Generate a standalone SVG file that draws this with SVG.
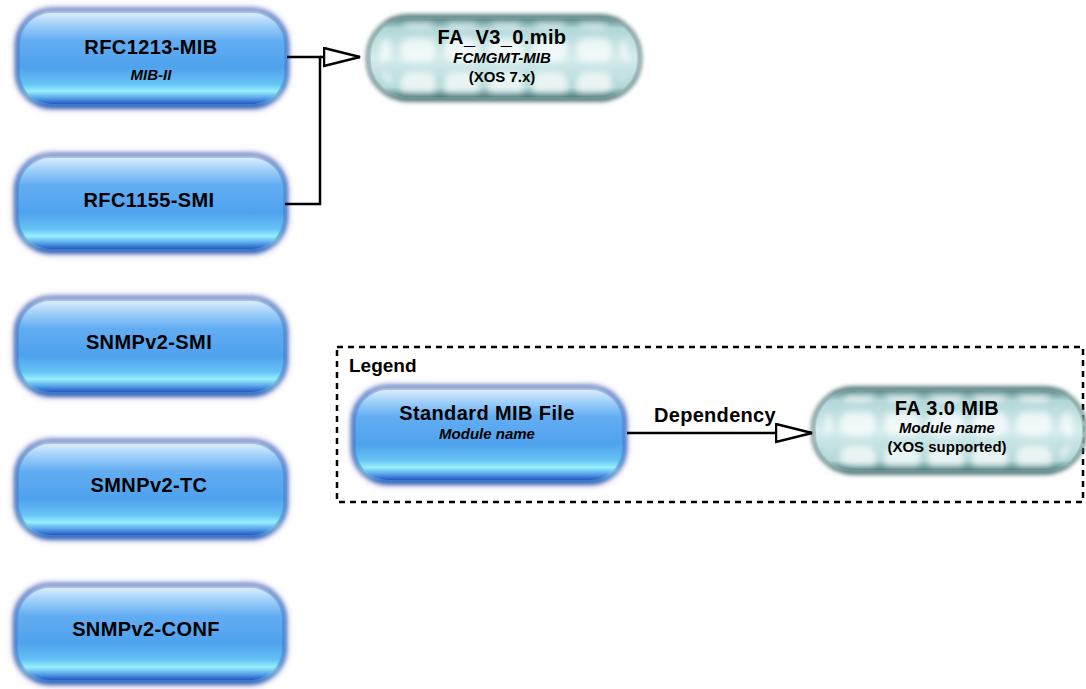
<svg xmlns="http://www.w3.org/2000/svg" width="1086" height="689" viewBox="0 0 1086 689">
<defs>
<linearGradient id="blueG" x1="0" y1="0" x2="0" y2="1">
<stop offset="0" stop-color="#dcecfb"/>
<stop offset="0.12" stop-color="#a4d2fa"/>
<stop offset="0.3" stop-color="#62adf2"/>
<stop offset="0.6" stop-color="#4fa2ee"/>
<stop offset="0.78" stop-color="#66c2f5"/>
<stop offset="0.86" stop-color="#96f0ff"/>
<stop offset="0.93" stop-color="#5aa8ec"/>
<stop offset="1" stop-color="#2458c0"/>
</linearGradient>
<linearGradient id="tealG" x1="0" y1="0" x2="0" y2="1">
<stop offset="0" stop-color="#5f8c8c"/>
<stop offset="0.12" stop-color="#b0d6d6"/>
<stop offset="0.5" stop-color="#d4ecec"/>
<stop offset="0.88" stop-color="#b0d6d6"/>
<stop offset="1" stop-color="#527e7e"/>
</linearGradient>
<filter id="soft" x="-10%" y="-20%" width="120%" height="140%">
<feGaussianBlur stdDeviation="2"/>
</filter>
<filter id="glow" x="-10%" y="-20%" width="120%" height="140%">
<feGaussianBlur stdDeviation="3"/>
</filter>
<filter id="blur4" x="-10%" y="-20%" width="120%" height="140%">
<feGaussianBlur stdDeviation="3"/>
</filter>
<pattern id="tiles" width="44" height="34" patternUnits="userSpaceOnUse">
<rect x="4" y="4" width="36" height="24" rx="10" fill="#ffffff" opacity="0.7"/>
</pattern>
<marker id="hollow" markerWidth="40" markerHeight="24" refX="37" refY="10" orient="auto" markerUnits="userSpaceOnUse">
<path d="M1,1 L37,10 L1,19 Z" fill="#ffffff" stroke="#000000" stroke-width="2.5"/>
</marker>
<style>
.blueBody{fill:url(#blueG);stroke:#1a4aa8;stroke-width:3}
.blueHalo{fill:none;stroke:#9a9ad8;stroke-width:5;opacity:0.4}
.tealBody{fill:url(#tealG);stroke:#345e5e;stroke-width:3}
.t1{font-family:"Liberation Sans",Arial,sans-serif;font-weight:bold;font-size:20px;fill:#000;text-anchor:middle;letter-spacing:0.4px}
.t2{font-family:"Liberation Sans",Arial,sans-serif;font-weight:bold;font-style:italic;font-size:15px;fill:#000;text-anchor:middle}
.t3{font-family:"Liberation Sans",Arial,sans-serif;font-weight:bold;font-size:15px;fill:#000;text-anchor:middle}
.lbl{font-family:"Liberation Sans",Arial,sans-serif;font-weight:bold;font-size:19px;fill:#000}
.dep{font-family:"Liberation Sans",Arial,sans-serif;font-weight:bold;font-size:20px;fill:#000;letter-spacing:0.3px}
.conn{fill:none;stroke:#000;stroke-width:2.5}
</style>
</defs>
<rect width="1086" height="689" fill="#ffffff"/>

<g id="legend-box">
<rect x="337" y="347" width="746" height="155" fill="none" stroke="#000" stroke-width="2.5" stroke-dasharray="6 5"/>
<text class="lbl" x="349" y="372">Legend</text>
</g>

<g id="node-rfc1213">
<rect x="16" y="9" width="272" height="99" rx="36" class="blueHalo" filter="url(#glow)"/>
<rect x="17" y="10" width="270" height="97" rx="35" class="blueBody" filter="url(#soft)"/>
<rect x="20" y="13" width="264" height="91" rx="32" fill="url(#blueG)"/>
<text class="t1" x="151" y="54">RFC1213-MIB</text>
<text class="t2" x="151" y="80">MIB-II</text>
</g>

<g id="node-rfc1155">
<rect x="15" y="154" width="272" height="99" rx="36" class="blueHalo" filter="url(#glow)"/>
<rect x="16" y="155" width="270" height="97" rx="35" class="blueBody" filter="url(#soft)"/>
<rect x="19" y="158" width="264" height="91" rx="32" fill="url(#blueG)"/>
<text class="t1" x="149" y="207">RFC1155-SMI</text>
</g>

<g id="node-snmpv2-smi">
<rect x="15" y="297" width="272" height="99" rx="36" class="blueHalo" filter="url(#glow)"/>
<rect x="16" y="298" width="270" height="97" rx="35" class="blueBody" filter="url(#soft)"/>
<rect x="19" y="301" width="264" height="91" rx="32" fill="url(#blueG)"/>
<text class="t1" x="149" y="349">SNMPv2-SMI</text>
</g>

<g id="node-smnpv2-tc">
<rect x="15" y="440" width="272" height="99" rx="36" class="blueHalo" filter="url(#glow)"/>
<rect x="16" y="441" width="270" height="97" rx="35" class="blueBody" filter="url(#soft)"/>
<rect x="19" y="444" width="264" height="91" rx="32" fill="url(#blueG)"/>
<text class="t1" x="149" y="492">SMNPv2-TC</text>
</g>

<g id="node-snmpv2-conf">
<rect x="14" y="584" width="272" height="100" rx="36" class="blueHalo" filter="url(#glow)"/>
<rect x="15" y="585" width="270" height="98" rx="35" class="blueBody" filter="url(#soft)"/>
<rect x="18" y="588" width="264" height="92" rx="32" fill="url(#blueG)"/>
<text class="t1" x="146" y="636">SNMPv2-CONF</text>
</g>

<g id="node-fa-v3">
<rect x="368" y="16" width="272" height="84" rx="40" class="tealBody" filter="url(#soft)"/>
<rect x="371" y="19" width="266" height="78" rx="37" fill="url(#tealG)"/>
<rect x="380" y="23" width="248" height="70" rx="30" fill="url(#tiles)" filter="url(#blur4)"/>
<text class="t1" x="502" y="44">FA_V3_0.mib</text>
<text class="t2" x="502" y="63">FCMGMT-MIB</text>
<text class="t3" x="502" y="82">(XOS 7.x)</text>
</g>

<g id="node-legend-standard">
<rect x="352" y="386" width="274" height="98" rx="36" class="blueHalo" filter="url(#glow)"/>
<rect x="353" y="387" width="272" height="96" rx="35" class="blueBody" filter="url(#soft)"/>
<rect x="356" y="390" width="266" height="90" rx="32" fill="url(#blueG)"/>
<text class="t1" x="487" y="420">Standard MIB File</text>
<text class="t2" x="487" y="439">Module name</text>
</g>

<g id="node-legend-fa">
<rect x="813" y="388" width="272" height="85" rx="40" class="tealBody" filter="url(#soft)"/>
<rect x="816" y="391" width="266" height="79" rx="37" fill="url(#tealG)"/>
<rect x="825" y="395" width="248" height="71" rx="30" fill="url(#tiles)" filter="url(#blur4)"/>
<text class="t1" x="947" y="415">FA 3.0 MIB</text>
<text class="t2" x="947" y="433">Module name</text>
<text class="t3" x="947" y="452">(XOS supported)</text>
</g>

<g id="connectors">
<path class="conn" d="M287,57 L320,57 L320,204 L285,204"/>
<path class="conn" d="M320,57 L360,57" marker-end="url(#hollow)"/>
<path class="conn" d="M627,433 L812,433" marker-end="url(#hollow)"/>
<text class="dep" x="654" y="422">Dependency</text>
</g>
</svg>
